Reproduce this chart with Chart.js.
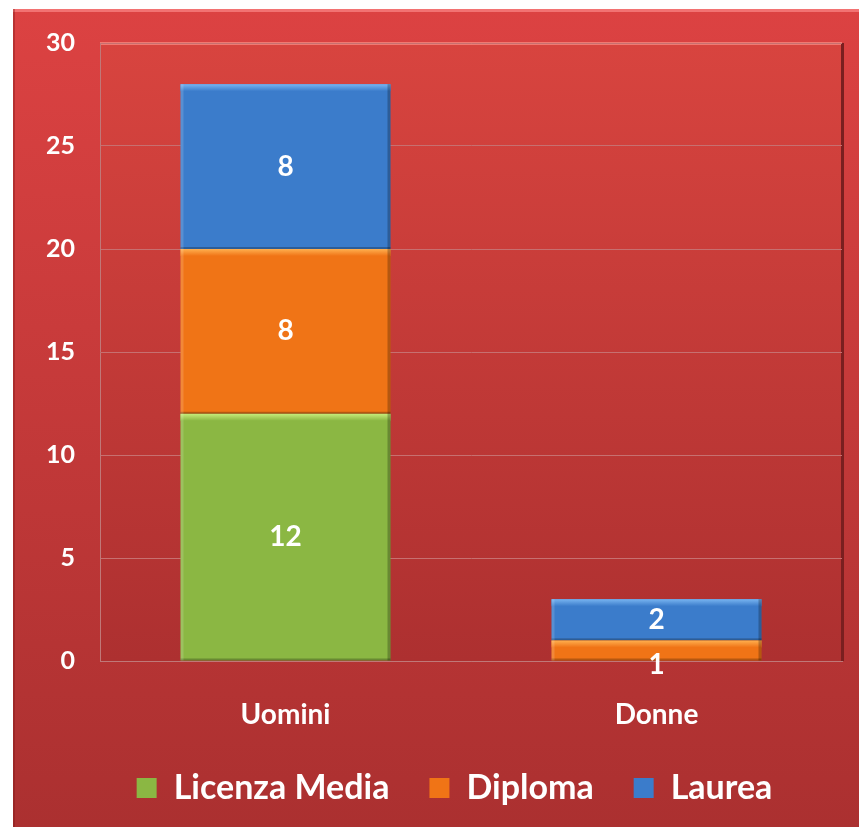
<!DOCTYPE html>
<html>
<head>
<meta charset="utf-8">
<script src="https://cdn.jsdelivr.net/npm/chart.js@4"></script>
<style>
  html, body { margin:0; padding:0; background:#fff; }
  #wrap { width:859px; height:831px; }
</style>
</head>
<body>
<div id="wrap"><canvas id="chart" width="859" height="831"></canvas></div>
<script>
// dati
const categories = ['Uomini', 'Donne'];
const seriesNames = ['Licenza Media', 'Diploma', 'Laurea'];
const licenzaMedia = [12, 0];
const diploma = [8, 1];
const laurea = [8, 2];
const yTicks = [0, 5, 10, 15, 20, 25, 30];

const colors = ['#8bb743', '#f07416', '#3b7ccb'];
const lightColors = ['#c6ec7a', '#ffb050', '#78b4f0'];

// sfondo rosso + area del grafico
const panelPlugin = {
  id: 'panel',
  afterLayout(chart) {
    // legenda un po' spostata a destra come nell'originale
    chart.legend.left += 27;
    chart.legend.right += 27;
  },
  beforeDraw(chart) {
    const c = chart.ctx, a = chart.chartArea;
    c.save();
    c.fillStyle = '#ffffff';
    c.fillRect(0, 0, chart.width, chart.height);
    let g = c.createLinearGradient(0, 9, 0, 827);
    g.addColorStop(0, '#dc4242');
    g.addColorStop(1, '#ab3030');
    c.fillStyle = g;
    c.fillRect(13, 9, 846, 818);
    c.fillStyle = '#f27272';
    c.fillRect(13, 9, 846, 3);
    c.fillStyle = 'rgba(120,20,20,0.35)';
    c.fillRect(13, 9, 2, 818);
    // plot area
    g = c.createLinearGradient(0, a.top, 0, a.bottom);
    g.addColorStop(0, '#d8443f');
    g.addColorStop(1, '#ad3030');
    c.fillStyle = g;
    c.fillRect(a.left, a.top, a.right - a.left, a.bottom - a.top);
    c.fillStyle = '#f07a72';
    c.fillRect(a.left, a.top - 1, a.right - a.left, 3);
    c.fillStyle = '#7a1f1f';
    c.fillRect(a.right - 1, a.top, 3, a.bottom - a.top);
    c.restore();
  }
};

// effetto rilievo e etichette
const barPlugin = {
  id: 'barLabels',
  afterDatasetsDraw(chart) {
    const c = chart.ctx;
    c.save();
    chart.data.datasets.forEach((ds, i) => {
      const meta = chart.getDatasetMeta(i);
      meta.data.forEach((bar, j) => {
        const v = ds.data[j];
        if (!v) return;
        const left = bar.x - bar.width / 2, right = bar.x + bar.width / 2;
        const top = Math.min(bar.y, bar.base), bottom = Math.max(bar.y, bar.base);
        const h = bottom - top;
        let g = c.createLinearGradient(0, top, 0, top + 7);
        g.addColorStop(0, lightColors[i]);
        g.addColorStop(1, colors[i]);
        c.fillStyle = g;
        c.fillRect(left, top, right - left, Math.min(7, h));
        c.fillStyle = 'rgba(0,0,0,0.25)';
        c.fillRect(right - 3, top, 3, h);
        c.fillRect(left, bottom - 2, right - left, 2);
        c.fillStyle = 'rgba(255,255,255,0.15)';
        c.fillRect(left, top, 3, h);
      });
    });
    c.fillStyle = '#ffffff';
    c.font = 'bold 28px Lato';
    c.textAlign = 'center';
    c.textBaseline = 'middle';
    chart.data.datasets.forEach((ds, i) => {
      const meta = chart.getDatasetMeta(i);
      meta.data.forEach((bar, j) => {
        const v = ds.data[j];
        if (!v) return;
        const h = Math.abs(bar.base - bar.y);
        let y = (bar.y + bar.base) / 2;
        if (h < 30) y = bar.base + 4;
        c.fillText(String(v), bar.x, y);
      });
    });
    c.restore();
  }
};

new Chart(document.getElementById('chart'), {
  type: 'bar',
  data: {
    labels: categories,
    datasets: [
      { label: seriesNames[0], data: licenzaMedia, backgroundColor: colors[0] },
      { label: seriesNames[1], data: diploma, backgroundColor: colors[1] },
      { label: seriesNames[2], data: laurea, backgroundColor: colors[2] }
    ]
  },
  options: {
    responsive: false,
    animation: false,
    layout: { padding: { left: 13, top: 43, right: 17, bottom: 16 } },
    datasets: { bar: { categoryPercentage: 1, barPercentage: 0.566 } },
    scales: {
      x: {
        stacked: true,
        afterFit(s) { s.height = 70; },
        grid: { display: false, drawTicks: false },
        border: { color: '#c07878', width: 1 },
        ticks: { color: '#ffffff', font: { family: 'Lato', weight: 'bold', size: 28 }, padding: 37 }
      },
      y: {
        stacked: true,
        min: 0, max: 30,
        afterFit(s) { s.width = 87; },
        afterBuildTicks(s) { s.ticks = yTicks.map(v => ({ value: v })); },
        grid: { color: '#c77070', lineWidth: 1, drawTicks: false },
        border: { color: '#c07878', width: 1 },
        ticks: { color: '#ffffff', font: { family: 'Lato', weight: 'bold', size: 25 }, padding: 25 }
      }
    },
    plugins: {
      legend: {
        position: 'bottom',
        labels: {
          color: '#ffffff',
          font: { family: 'Lato', weight: 'bold', size: 34 },
          boxWidth: 20, boxHeight: 20, padding: 40
        }
      },
      tooltip: { enabled: false }
    }
  },
  plugins: [panelPlugin, barPlugin]
});
</script>
</body>
</html>
